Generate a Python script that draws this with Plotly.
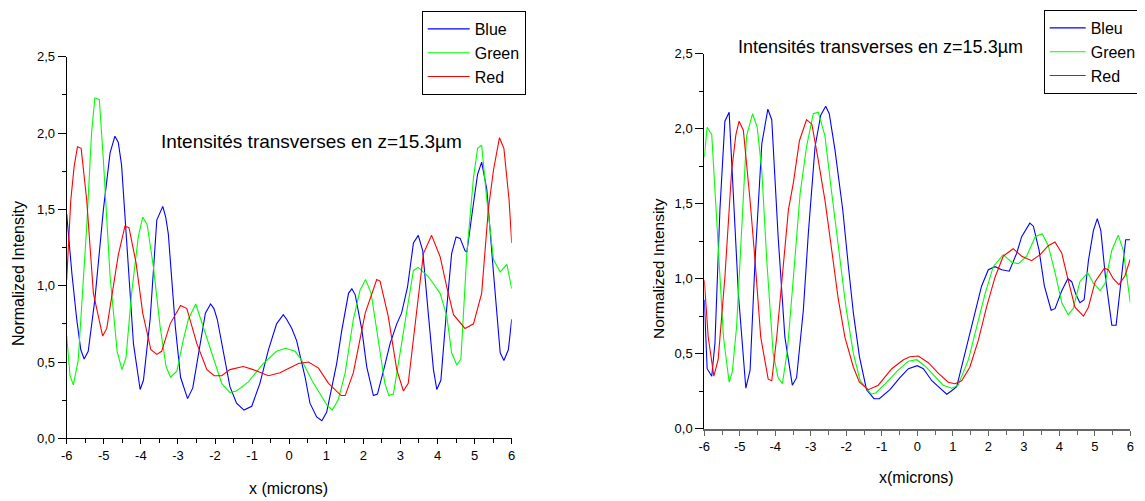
import plotly.graph_objects as go

# ---------------- data: left panel ----------------
L_blue_x = [-6.00,-5.86,-5.73,-5.62,-5.53,-5.42,-5.24,-5.01,-4.83,-4.70,-4.61,-4.52,-4.38,-4.20,-4.02,-3.93,-3.75,-3.57,-3.41,-3.33,-3.26,-3.07,-2.93,-2.74,-2.60,-2.40,-2.26,-2.12,-2.03,-1.94,-1.78,-1.60,-1.42,-1.22,-1.01,-0.79,-0.56,-0.34,-0.16,-0.07,0.07,0.20,0.43,0.56,0.74,0.88,1.01,1.15,1.28,1.42,1.60,1.69,1.78,1.96,2.09,2.27,2.38,2.55,2.72,2.90,3.03,3.19,3.35,3.48,3.60,3.75,3.89,3.98,4.09,4.25,4.38,4.50,4.61,4.74,4.79,4.97,5.08,5.19,5.33,5.51,5.69,5.79,5.91,6.00]
L_blue_y = [1.47,1.08,0.78,0.58,0.52,0.57,0.91,1.50,1.87,1.98,1.94,1.79,1.28,0.62,0.32,0.38,0.78,1.43,1.52,1.45,1.34,0.73,0.40,0.26,0.33,0.62,0.82,0.88,0.85,0.78,0.58,0.34,0.23,0.185,0.21,0.36,0.58,0.75,0.81,0.78,0.72,0.64,0.40,0.23,0.14,0.115,0.17,0.34,0.49,0.71,0.95,0.98,0.94,0.71,0.47,0.28,0.29,0.45,0.62,0.75,0.82,0.99,1.28,1.33,1.23,0.82,0.45,0.32,0.38,0.86,1.21,1.32,1.31,1.23,1.22,1.54,1.73,1.81,1.63,1.08,0.56,0.51,0.58,0.78]

L_green_x = [-6.00,-5.91,-5.82,-5.69,-5.46,-5.33,-5.24,-5.12,-5.01,-4.83,-4.64,-4.51,-4.40,-4.25,-4.07,-3.95,-3.83,-3.66,-3.48,-3.32,-3.20,-3.03,-2.86,-2.72,-2.52,-2.32,-2.04,-1.82,-1.60,-1.42,-1.10,-0.70,-0.34,-0.10,0.16,0.34,0.61,0.83,1.01,1.16,1.32,1.51,1.73,1.91,2.06,2.21,2.40,2.58,2.69,2.81,2.99,3.17,3.35,3.48,3.75,4.07,4.25,4.38,4.52,4.63,4.79,4.97,5.08,5.19,5.33,5.51,5.69,5.87,6.00]
L_green_y = [0.67,0.41,0.35,0.51,1.39,2.00,2.23,2.22,1.82,1.06,0.57,0.45,0.53,0.95,1.32,1.45,1.40,1.12,0.73,0.47,0.40,0.44,0.64,0.78,0.88,0.73,0.51,0.36,0.30,0.31,0.37,0.49,0.57,0.59,0.57,0.51,0.38,0.29,0.22,0.185,0.25,0.43,0.78,0.97,1.04,0.95,0.64,0.36,0.28,0.29,0.56,0.84,1.10,1.12,1.06,0.95,0.80,0.56,0.48,0.52,1.21,1.71,1.90,1.92,1.56,1.17,1.09,1.14,0.98]

L_red_x = [-6.00,-5.89,-5.80,-5.71,-5.61,-5.46,-5.28,-5.03,-4.92,-4.74,-4.61,-4.43,-4.32,-4.13,-3.95,-3.73,-3.57,-3.44,-3.21,-2.93,-2.76,-2.49,-2.22,-2.02,-1.82,-1.60,-1.24,-0.97,-0.56,-0.25,0.02,0.25,0.52,0.79,1.06,1.40,1.51,1.73,2.05,2.36,2.45,2.67,2.90,3.08,3.21,3.44,3.62,3.84,4.07,4.25,4.43,4.74,4.97,5.19,5.37,5.51,5.67,5.79,5.93,6.00]
L_red_y = [1.04,1.56,1.78,1.91,1.90,1.56,0.95,0.67,0.72,0.99,1.20,1.39,1.38,1.15,0.82,0.58,0.55,0.57,0.75,0.87,0.85,0.62,0.45,0.41,0.41,0.45,0.47,0.45,0.41,0.43,0.46,0.49,0.50,0.46,0.36,0.28,0.28,0.43,0.82,1.04,1.03,0.80,0.45,0.31,0.36,0.84,1.21,1.33,1.19,0.99,0.81,0.72,0.75,0.95,1.50,1.76,1.97,1.90,1.56,1.28]

# ---------------- data: right panel ----------------
R_blue_x = [-6.00,-5.92,-5.79,-5.70,-5.56,-5.42,-5.30,-5.18,-5.04,-4.83,-4.71,-4.57,-4.38,-4.21,-4.10,-3.92,-3.73,-3.52,-3.40,-3.21,-3.07,-2.88,-2.72,-2.58,-2.48,-2.32,-2.10,-1.94,-1.80,-1.63,-1.43,-1.22,-1.07,-0.77,-0.49,-0.25,0.00,0.17,0.41,0.64,0.83,0.95,1.11,1.34,1.58,1.81,2.00,2.19,2.38,2.59,2.80,2.94,3.17,3.27,3.43,3.58,3.77,3.88,4.07,4.24,4.35,4.46,4.58,4.70,4.82,4.96,5.07,5.17,5.31,5.48,5.60,5.74,5.87,6.00]
R_blue_y = [0.86,0.40,0.35,0.57,1.46,2.05,2.11,1.57,0.90,0.27,0.39,1.12,1.90,2.13,2.06,1.28,0.61,0.29,0.34,0.79,1.30,1.88,2.09,2.15,2.10,1.86,1.46,1.08,0.77,0.48,0.26,0.20,0.20,0.26,0.34,0.40,0.42,0.40,0.32,0.27,0.23,0.25,0.28,0.50,0.72,0.95,1.06,1.08,1.06,1.05,1.17,1.28,1.37,1.35,1.19,0.95,0.79,0.80,0.92,1.00,0.98,0.90,0.84,0.86,1.12,1.32,1.40,1.32,0.99,0.69,0.69,0.99,1.26,1.26]

R_green_x = [-6.00,-5.92,-5.79,-5.65,-5.46,-5.30,-5.21,-5.09,-4.95,-4.81,-4.64,-4.51,-4.38,-4.24,-4.06,-3.92,-3.80,-3.66,-3.49,-3.30,-3.12,-2.93,-2.79,-2.60,-2.41,-2.23,-2.01,-1.80,-1.61,-1.30,-1.16,-0.86,-0.54,-0.25,-0.02,0.21,0.45,0.73,0.97,1.15,1.44,1.67,1.91,2.14,2.42,2.66,2.85,3.08,3.32,3.52,3.69,3.88,4.07,4.25,4.39,4.58,4.80,4.96,5.15,5.29,5.48,5.66,5.80,6.00]
R_green_y = [1.81,2.01,1.96,1.35,0.61,0.31,0.38,0.68,1.35,1.95,2.10,2.01,1.72,1.12,0.50,0.34,0.30,0.52,1.01,1.57,1.88,2.10,2.11,1.95,1.57,1.21,0.81,0.50,0.32,0.23,0.24,0.31,0.39,0.45,0.46,0.42,0.36,0.29,0.27,0.29,0.46,0.68,0.90,1.08,1.16,1.11,1.10,1.15,1.28,1.30,1.22,1.04,0.84,0.76,0.80,0.98,1.04,0.97,0.92,0.97,1.19,1.29,1.19,0.84]

R_red_x = [-6.00,-5.89,-5.73,-5.61,-5.42,-5.23,-5.11,-5.02,-4.90,-4.71,-4.57,-4.41,-4.20,-4.10,-3.96,-3.77,-3.63,-3.49,-3.32,-3.12,-2.97,-2.79,-2.60,-2.41,-2.23,-2.04,-1.80,-1.63,-1.38,-1.10,-0.72,-0.39,-0.21,0.03,0.31,0.59,0.87,1.06,1.25,1.48,1.72,1.95,2.19,2.42,2.70,2.94,3.22,3.46,3.69,3.88,4.07,4.25,4.44,4.68,4.82,5.01,5.27,5.38,5.52,5.68,5.85,6.00]
R_red_y = [0.99,0.61,0.35,0.46,1.01,1.72,1.96,2.05,1.99,1.52,1.12,0.61,0.33,0.32,0.61,1.12,1.46,1.64,1.92,2.06,2.03,1.79,1.52,1.19,0.87,0.61,0.41,0.31,0.26,0.29,0.40,0.46,0.48,0.485,0.44,0.37,0.31,0.30,0.32,0.41,0.59,0.81,1.01,1.15,1.20,1.15,1.12,1.16,1.22,1.245,1.17,0.99,0.81,0.75,0.81,0.98,1.07,1.06,1.00,0.96,1.02,1.13]

# ---------------- labels ----------------
left_names = ["Blue", "Green", "Red"]
right_names = ["Bleu", "Green", "Red"]
colors = ["#0000ff", "#00ff00", "#ff0000"]
y_tickvals = [0.0, 0.5, 1.0, 1.5, 2.0, 2.5]
y_ticktext = ["0,0", "0,5", "1,0", "1,5", "2,0", "2,5"]
x_tickvals = [-6, -5, -4, -3, -2, -1, 0, 1, 2, 3, 4, 5, 6]
x_ticktext = ["-6", "-5", "-4", "-3", "-2", "-1", "0", "1", "2", "3", "4", "5", "6"]
title_text = "Intensités transverses en z=15.3µm"
ytitle = "Normalized Intensity"
xtitle_left = "x (microns)"
xtitle_right = "x(microns)"

FONT = "Liberation Sans, Arial, sans-serif"
OFF = 8  # page body margin offset
W, H = 1145 - OFF, 501 - OFF

fig = go.Figure()
left_series = [(L_blue_x, L_blue_y), (L_green_x, L_green_y), (L_red_x, L_red_y)]
right_series = [(R_blue_x, R_blue_y), (R_green_x, R_green_y), (R_red_x, R_red_y)]
for (xs, ys), name, c in zip(left_series, left_names, colors):
    fig.add_trace(go.Scatter(x=xs, y=ys, mode="lines", name=name,
                             line=dict(color=c, width=1.1),
                             xaxis="x", yaxis="y", legend="legend"))
for (xs, ys), name, c in zip(right_series, right_names, colors):
    fig.add_trace(go.Scatter(x=xs, y=ys, mode="lines", name=name,
                             line=dict(color=c, width=1.1),
                             xaxis="x2", yaxis="y2", legend="legend2"))

def px_x(p):
    return (p - OFF) / W

def px_y(p):
    return 1 - (p - OFF) / H

def xaxis_cfg(domain, anchor, linecolor, linewidth):
    return dict(domain=domain, anchor=anchor, range=[-6, 6],
                tickmode="array", tickvals=x_tickvals, ticktext=x_ticktext,
                showline=True, linecolor=linecolor, linewidth=linewidth,
                ticks="outside", ticklen=5, tickcolor=linecolor, tickwidth=1,
                minor=dict(dtick=0.5, tick0=0, ticks="outside", ticklen=4,
                           tickcolor=linecolor, tickwidth=1),
                showgrid=False, zeroline=False,
                tickfont=dict(family=FONT, size=13, color="black"))

def yaxis_cfg(domain, anchor):
    return dict(domain=domain, anchor=anchor, range=[0, 2.5],
                tickmode="array", tickvals=y_tickvals, ticktext=y_ticktext,
                showline=True, linecolor="black", linewidth=1,
                ticks="outside", ticklen=8, tickcolor="black", tickwidth=1,
                minor=dict(dtick=0.25, tick0=0, ticks="outside", ticklen=4,
                           tickcolor="black", tickwidth=1),
                showgrid=False, zeroline=False,
                tickfont=dict(family=FONT, size=13, color="black"))

fig.update_layout(
    width=W, height=H,
    margin=dict(l=0, r=0, t=0, b=0, autoexpand=False),
    paper_bgcolor="white", plot_bgcolor="white",
    font=dict(family=FONT, color="black"),
    xaxis=xaxis_cfg([px_x(66.7), px_x(511.7)], "y", "black", 1),
    yaxis=yaxis_cfg([px_y(438.3), px_y(56.8)], "x"),
    xaxis2=xaxis_cfg([px_x(704.3), px_x(1130.3)], "y2", "#666666", 2),
    yaxis2=yaxis_cfg([px_y(428.7), px_y(53.7)], "x2"),
    legend=dict(x=px_x(421.7), y=px_y(11), xanchor="left", yanchor="top",
                bordercolor="black", borderwidth=1, bgcolor="white",
                font=dict(family=FONT, size=16, color="black"),
                itemwidth=42, tracegroupgap=0),
    legend2=dict(x=px_x(1043.7), y=px_y(10), xanchor="left", yanchor="top",
                 bordercolor="black", borderwidth=1, bgcolor="white",
                 font=dict(family=FONT, size=16, color="black"),
                 itemwidth=36, tracegroupgap=0),
    showlegend=True,
)

annos = [
    dict(text=title_text, x=px_x(311), y=px_y(142), size=19),
    dict(text=title_text, x=px_x(880.5), y=px_y(47), size=18),
    dict(text=ytitle, x=px_x(18), y=px_y(274), textangle=-90, size=16),
    dict(text=ytitle, x=px_x(658), y=px_y(269), textangle=-90, size=15.5),
    dict(text=xtitle_left, x=px_x(288), y=px_y(488), size=16),
    dict(text=xtitle_right, x=px_x(916), y=px_y(477), size=16),
]
for a in annos:
    fig.add_annotation(xref="paper", yref="paper", showarrow=False,
                       xanchor="center", yanchor="middle",
                       text=a["text"], x=a["x"], y=a["y"],
                       textangle=a.get("textangle", 0),
                       font=dict(family=FONT, color="black", size=a["size"]))

fig.write_html("out.html")
